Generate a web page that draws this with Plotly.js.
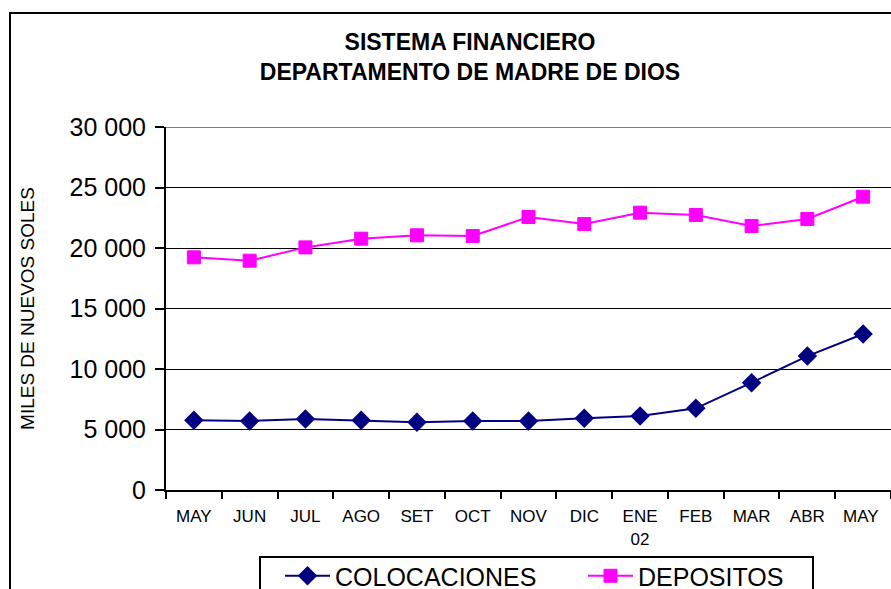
<!DOCTYPE html>
<html>
<head>
<meta charset="utf-8">
<script src="https://cdn.plot.ly/plotly-3.0.1.min.js"></script>
<style>html,body{margin:0;padding:0;background:#fff;}#chart{width:891px;height:589px;}</style>
</head>
<body>
<div id="chart"></div>
<script>
const categories = ["MAY","JUN","JUL","AGO","SET","OCT","NOV","DIC","ENE<br>02","FEB","MAR","ABR","MAY "];
const colocaciones = [5760, 5700, 5870, 5760, 5590, 5700, 5700, 5920, 6110, 6750, 8870, 11070, 12890];
const depositos = [19230, 18950, 20050, 20770, 21050, 20990, 22560, 21980, 22920, 22730, 21820, 22400, 24240];
const yTicks = [0, 5000, 10000, 15000, 20000, 25000, 30000];

const FONT = "Arial, 'Liberation Sans', sans-serif";
const L = 166, R = 0, T = 127, B = 99;
const W = 891, H = 589;
const pw = W - L - R, ph = H - T - B;
const px = v => (v - L) / pw;
const py = v => (H - B - v) / ph;
const yMax = yTicks[yTicks.length - 1];

const traces = [
  {
    x: categories, y: colocaciones, name: "COLOCACIONES", type: "scatter", mode: "lines+markers",
    line: {color: "#000080", width: 2},
    marker: {symbol: "diamond", size: 15, color: "#000080"}
  },
  {
    x: categories, y: depositos, name: "DEPOSITOS", type: "scatter", mode: "lines+markers",
    line: {color: "#FF00FF", width: 2},
    marker: {symbol: "square", size: 13, color: "#FF00FF", line: {color: "#FF00FF", width: 1}}
  }
];

const layout = {
  width: W, height: H,
  margin: {l: L, r: R, t: T, b: B, pad: 0, autoexpand: false},
  paper_bgcolor: "#fff", plot_bgcolor: "#fff",
  separators: ", ",
  font: {family: FONT, color: "#000"},
  title: {
    text: "<b>SISTEMA FINANCIERO<br>DEPARTAMENTO DE MADRE DE DIOS</b>",
    font: {family: FONT, size: 23, color: "#000"},
    x: px(470), xref: "paper", xanchor: "center",
    y: 1 - 50 / H, yanchor: "top", yref: "container"
  },
  showlegend: true,
  legend: {
    orientation: "h",
    x: px(280), y: py(553), xanchor: "left", yanchor: "top",
    xref: "paper", yref: "paper",
    borderwidth: 0, bgcolor: "rgba(0,0,0,0)",
    font: {family: FONT, size: 25, color: "#000"},
    entrywidth: 243,
    itemwidth: 45
  },
  xaxis: {
    type: "category", range: [-0.5, 12.5],
    showline: true, linecolor: "#000", linewidth: 2,
    ticks: "outside", tickson: "boundaries", ticklen: 7, tickwidth: 2, tickcolor: "#000",
    showgrid: false, zeroline: false,
    tickfont: {family: FONT, size: 17, color: "#000"},
    ticklabelstandoff: 10,
    fixedrange: true
  },
  yaxis: {
    range: [0, yMax],
    tickvals: yTicks, tickformat: ",d",
    showline: true, linecolor: "#000", linewidth: 2,
    ticks: "outside", ticklen: 9, tickwidth: 2, tickcolor: "#000",
    showgrid: true, gridcolor: "#000", gridwidth: 1,
    zeroline: false,
    tickfont: {family: FONT, size: 25, color: "#000"},
    ticklabelstandoff: 4,
    title: {text: "MILES DE NUEVOS SOLES", font: {family: FONT, size: 19, color: "#000"}, standoff: 30},
    fixedrange: true
  },
  shapes: [
    {type: "line", xref: "paper", yref: "y",
     x0: 0, x1: 1, y0: yMax, y1: yMax,
     line: {color: "#808080", width: 2}, layer: "below"},
    {type: "rect", xref: "paper", yref: "paper",
     x0: px(10), x1: px(1000), y0: py(700), y1: py(13),
     line: {color: "#000", width: 2}, fillcolor: "rgba(0,0,0,0)", layer: "below"},
    {type: "rect", xref: "paper", yref: "paper",
     x0: px(260), x1: px(813), y0: py(620), y1: py(557),
     line: {color: "#000", width: 2}, fillcolor: "rgba(0,0,0,0)", layer: "below"}
  ]
};

Plotly.newPlot("chart", traces, layout, {displayModeBar: false, staticPlot: true});
</script>
</body>
</html>
